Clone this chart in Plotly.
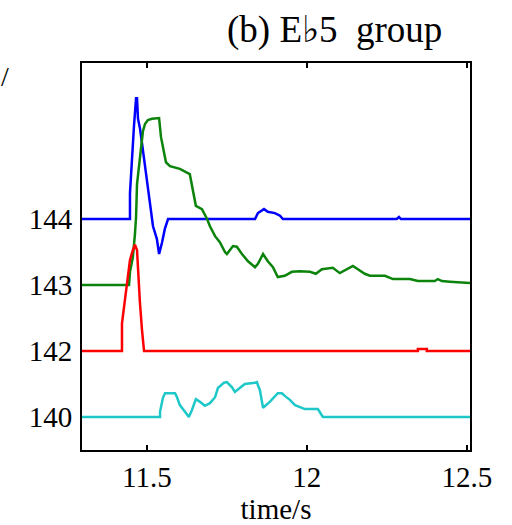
import plotly.graph_objects as go

# Stacked pitch tracks: each track is drawn at its own baseline row,
# deviations are in row units (one row = spacing between labelled baselines).
row_labels = ["140", "142", "143", "144"]
row_positions = [0, 1, 2, 3]

# 144 track (blue)
t_144 = [11.297, 11.447, 11.447, 11.453, 11.4595, 11.466, 11.469, 11.472, 11.478, 11.4845,
         11.494, 11.503, 11.5095, 11.519, 11.531, 11.538, 11.547, 11.556, 11.566, 11.838,
         11.847, 11.866, 11.878, 11.900, 11.916, 11.925, 12.281, 12.288, 12.294, 12.51]
d_144 = [0, 0, 0.39, 0.91, 1.41, 1.83, 1.83, 1.52, 1.38, 1.15,
         0.80, 0.50, 0.24, -0.11, -0.30, -0.53, -0.36, -0.15, 0, 0,
         0.09, 0.15, 0.11, 0.09, 0.05, 0, 0, 0.03, 0, 0]

# 143 track (green)
t_143 = [11.297, 11.444, 11.447, 11.456, 11.4625, 11.466, 11.469, 11.475, 11.481, 11.4875,
         11.494, 11.503, 11.516, 11.538, 11.544, 11.553, 11.5595, 11.572, 11.603, 11.634,
         11.644, 11.653, 11.672, 11.688, 11.697, 11.713, 11.728, 11.744, 11.750, 11.769,
         11.781, 11.797, 11.816, 11.838, 11.847, 11.863, 11.878, 11.894, 11.909, 11.931,
         11.953, 11.978, 12.0095, 12.028, 12.047, 12.081, 12.103, 12.125, 12.144, 12.1595,
         12.181, 12.197, 12.244, 12.269, 12.322, 12.347, 12.400, 12.4095, 12.422, 12.447,
         12.51]
d_143 = [0, 0, 0.20, 0.42, 0.77, 1.03, 1.53, 1.79, 2.03, 2.33,
         2.44, 2.50, 2.52, 2.53, 2.24, 2.03, 1.86, 1.80, 1.76, 1.68,
         1.45, 1.20, 1.15, 1.00, 0.89, 0.74, 0.65, 0.50, 0.47, 0.59,
         0.58, 0.47, 0.36, 0.27, 0.32, 0.47, 0.36, 0.27, 0.12, 0.14,
         0.20, 0.21, 0.20, 0.17, 0.24, 0.26, 0.18, 0.24, 0.29, 0.24,
         0.17, 0.14, 0.14, 0.09, 0.09, 0.06, 0.06, 0.09, 0.06, 0.05,
         0.03]

# 142 track (red)
t_142 = [11.297, 11.422, 11.422, 11.428, 11.4345, 11.441, 11.447, 11.456, 11.4625, 11.469,
         11.472, 11.478, 11.4845, 11.491, 12.347, 12.347, 12.375, 12.375, 12.51]
d_142 = [0, 0, 0.42, 0.67, 0.92, 1.18, 1.38, 1.53, 1.61, 1.53,
         1.18, 0.74, 0.32, 0, 0, 0.03, 0.03, 0, 0]

# 140 track (cyan)
t_140 = [11.297, 11.541, 11.541, 11.550, 11.5565, 11.588, 11.594, 11.603, 11.619, 11.631,
         11.641, 11.653, 11.666, 11.681, 11.697, 11.713, 11.722, 11.741, 11.750, 11.766,
         11.775, 11.791, 11.806, 11.838, 11.844, 11.847, 11.853, 11.863, 11.884, 11.909,
         11.922, 11.931, 11.947, 11.963, 11.978, 11.994, 12.0345, 12.041, 12.050, 12.51]
d_140 = [0, 0, 0.08, 0.29, 0.36, 0.36, 0.30, 0.18, 0.08, 0,
         0.11, 0.27, 0.23, 0.17, 0.21, 0.30, 0.44, 0.52, 0.53, 0.45,
         0.38, 0.44, 0.50, 0.52, 0.53, 0.48, 0.41, 0.14, 0.23, 0.36,
         0.36, 0.32, 0.26, 0.18, 0.15, 0.12, 0.12, 0.06, 0, 0]

x_ticks = [11.5, 12, 12.5]
x_tick_text = ["11.5", "12", "12.5"]

tracks = [
    (t_144, d_144, 3, "#0000ff"),
    (t_143, d_143, 2, "#0c840c"),
    (t_142, d_142, 1, "#ff0000"),
    (t_140, d_140, 0, "#1ec8c8"),
]

fig = go.Figure()
for t, d, base, color in tracks:
    fig.add_trace(go.Scatter(
        x=t, y=[base + v for v in d], mode="lines",
        line=dict(color=color, width=2.5), showlegend=False,
    ))

serif = "Liberation Serif"
fig.update_layout(
    width=512, height=525,
    margin=dict(l=82, r=42, t=63, b=75),
    paper_bgcolor="white", plot_bgcolor="white",
    font=dict(family=serif, size=29, color="black"),
    xaxis=dict(
        range=[11.297, 12.51], tickvals=x_ticks, ticktext=x_tick_text,
        ticks="inside", ticklen=5, tickwidth=2, tickcolor="black",
        showline=True, linecolor="black", linewidth=2, mirror="ticks",
        showgrid=False, zeroline=False,
        title=dict(text="time/s", font=dict(family=serif, size=29), standoff=0),
    ),
    yaxis=dict(
        range=[-0.5, 5.364], tickvals=row_positions, ticktext=row_labels,
        ticks="", showline=True, linecolor="black", linewidth=2, mirror=True,
        showgrid=False, zeroline=False, ticklabelstandoff=2,
    ),
    annotations=[
        dict(text="(b) E\u266d5  group", xref="paper", yref="paper",
             x=0.65, y=1.085, xanchor="center", yanchor="middle",
             showarrow=False, font=dict(family=serif, size=37, color="black")),
        dict(text="/", xref="paper", yref="paper",
             x=-0.215, y=0.965, xanchor="left", yanchor="middle",
             showarrow=False, font=dict(family=serif, size=28, color="black")),
    ],
)

fig.write_html("out.html")
